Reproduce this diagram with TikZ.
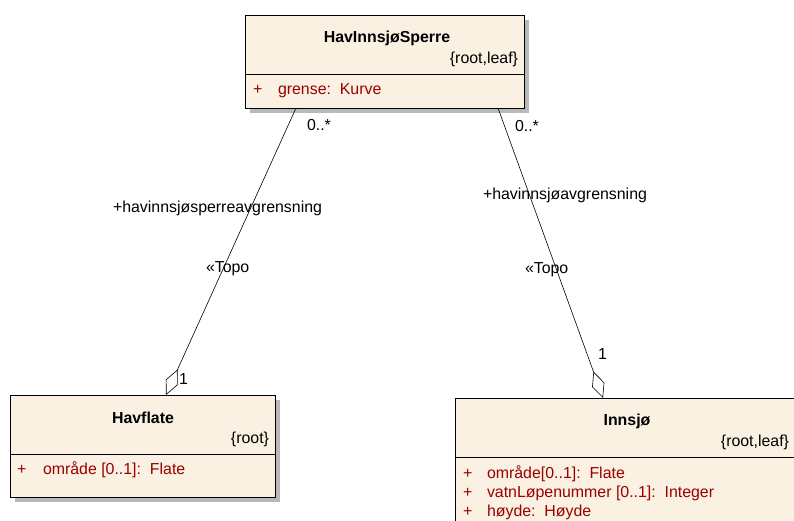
\documentclass[tikz,border=0pt]{standalone}
\usepackage{fontspec}
\setmainfont{Liberation Sans}
\usetikzlibrary{arrows.meta,calc,shadows}
\definecolor{boxfill}{RGB}{251,241,227}
\definecolor{attr}{RGB}{153,0,0}
\definecolor{shade}{RGB}{185,185,185}
\begin{document}
\begin{tikzpicture}[x=1pt,y=-1pt,
  font=\fontsize{15.9}{19}\selectfont,
  every node/.style={inner sep=0pt, outer sep=0pt},
  classbox/.style={draw=black, fill=boxfill, line width=0.8pt, anchor=north west,
    drop shadow={shadow xshift=5pt, shadow yshift=-5pt, opacity=1, fill=shade}},
  sep/.style={line width=0.8pt},
  title/.style={anchor=base, font=\fontsize{15.9}{19}\selectfont\bfseries},
  tag/.style={anchor=base east},
  attrtxt/.style={anchor=base west, text=attr},
  lbl/.style={anchor=base west},
  assoc/.style={line width=0.6pt, -{Diamond[open,length=28pt,width=13pt,line width=0.6pt]}}]
\useasboundingbox (0,0) rectangle (794,521);
\fill[white] (0,0) rectangle (794,521);
\clip (0,0) rectangle (794,521);

% boxes
\node[classbox, minimum width=279pt, minimum height=93pt] (sperre) at (245,15) {};
\node[classbox, minimum width=265pt, minimum height=102pt] (havflate) at (10,395) {};
\node[classbox, minimum width=344pt, minimum height=140pt] (innsjo) at (455,398) {};

\draw[sep] ($(sperre.north west)+(0,59)$) -- ($(sperre.north east)+(0,59)$);
\draw[sep] ($(havflate.north west)+(0,59)$) -- ($(havflate.north east)+(0,59)$);
\draw[sep] ($(innsjo.north west)+(0,59)$) -- ($(innsjo.north east)+(0,59)$);

% HavInnsjøSperre
\node[title] (t1) at (387,43) {HavInnsjøSperre};
\node[tag] (s1) at (518,64) {\{root,leaf\}};
\node[attrtxt] (p1) at (253,95) {+};
\node[attrtxt] (g1) at (278,95) {grense:\ \ Kurve};

% Havflate
\node[title] (t2) at (143,423) {Havflate};
\node[tag] (s2) at (269,443) {\{root\}};
\node[attrtxt] (p2) at (17,474) {+};
\node[attrtxt] (g2) at (43,474) {område [0..1]:\ \ Flate};

% Innsjø
\node[title] (t3) at (627,425) {Innsjø};
\node[tag] (s3) at (789,446) {\{root,leaf\}};
\node[attrtxt] (p3a) at (463,478) {+};
\node[attrtxt] (g3a) at (487,478) {område[0..1]:\ \ Flate};
\node[attrtxt] (p3b) at (463,497) {+};
\node[attrtxt] (g3b) at (487,497) {vatnLøpenummer [0..1]:\ \ Integer};
\node[attrtxt] (p3c) at (463,516) {+};
\node[attrtxt] (g3c) at (487,516) {høyde:\ \ Høyde};

% connectors
\coordinate (a1) at ($(sperre.south west)+(51,0)$);
\coordinate (h1) at ($(havflate.north west)+(156,0)$);
\coordinate (a2) at ($(sperre.south west)+(253,0)$);
\coordinate (h2) at ($(innsjo.north west)+(148,0)$);
\draw[assoc] (a1) -- (h1);
\draw[assoc] (a2) -- (h2);

% labels
\node[lbl] (m1) at (307,131) {0..*};
\node[lbl] (m2) at (515,132) {0..*};
\node[lbl] (r1) at (113,213) {+havinnsjøsperreavgrensning};
\node[lbl] (r2) at (483,200) {+havinnsjøavgrensning};
\node[lbl] (st1) at (206,272) {«Topo};
\node[lbl] (st2) at (525,273) {«Topo};
\node[lbl] (o1) at (179,384) {1};
\node[lbl] (o2) at (598,359) {1};
\end{tikzpicture}
\end{document}
